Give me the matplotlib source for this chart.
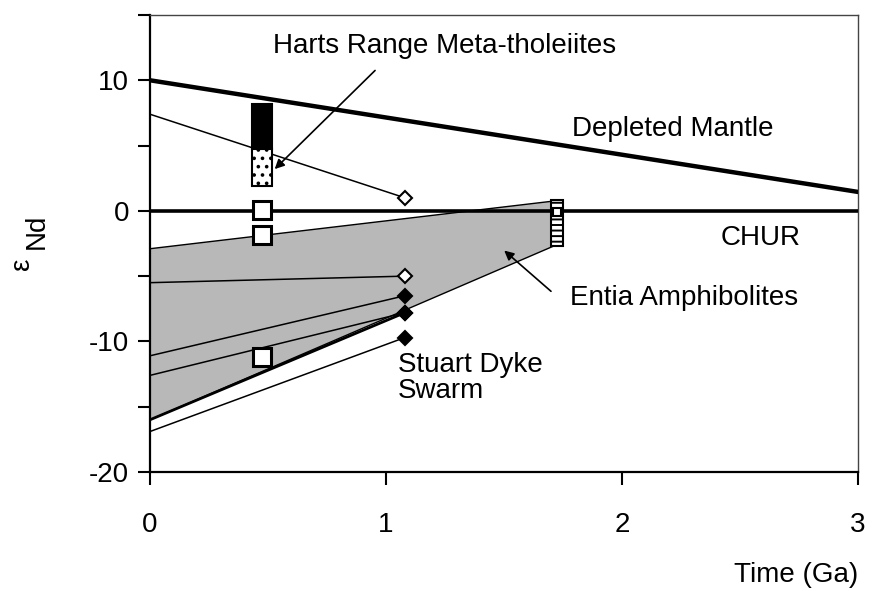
import matplotlib
matplotlib.use("Agg")
import matplotlib.pyplot as plt
from matplotlib.patches import Polygon, Rectangle

plt.rcParams['font.family'] = ['Liberation Sans', 'DejaVu Sans']
plt.rcParams['hatch.linewidth'] = 1.4

# Reference evolution lines (time in Ga, epsilon Nd)
dm_time = [0.0, 3.0]
dm_eps = [10.0, 1.45]
chur_time = [0.0, 3.0]
chur_eps = [0.0, 0.0]

# Entia Amphibolites field
entia_time = [0.0, 1.71, 1.71, 0.0]
entia_eps = [-2.9, 0.75, -2.7, -16.0]
entia_bar_time = 1.725
entia_bar_eps = (-2.7, 0.85)
entia_square_eps = -0.1

# Stuart Dyke Swarm samples and their evolution back to the present
sample_age = 1.08
sample_eps = [1.0, -5.0, -6.5, -7.8, -7.8, -9.7]
present_eps = [7.4, -5.5, -11.1, -12.6, -16.0, -16.9]
sample_filled = [False, False, True, True, True, True]
sample_lw = [1.1, 1.1, 1.1, 1.1, 2.0, 1.1]

# Harts Range meta-tholeiites
hr_age = 0.473
hr_square_eps = [0.1, -1.85, -11.2]
hr_black_eps = (4.7, 8.2)
hr_dot_eps = (1.9, 4.7)

x_ticks = [0, 1, 2, 3]
y_ticks = [-20, -15, -10, -5, 0, 5, 10, 15]
y_tick_labels = ['-20', '', '-10', '', '0', '', '10', '']

fig = plt.figure(figsize=(8.73, 5.91), dpi=100)
ax = fig.add_axes([150 / 873, 1 - 472 / 591, 708 / 873, 457 / 591])
ax.set_xlim(0, 3)
ax.set_ylim(-20, 15)

ax.add_patch(Polygon(list(zip(entia_time, entia_eps)), closed=True,
                     facecolor='#b8b8b8', edgecolor='black', lw=1.0, zorder=1))

ax.plot(dm_time, dm_eps, color='black', lw=3.2, zorder=3)
ax.plot(chur_time, chur_eps, color='black', lw=2.6, zorder=3)

for e0, e1, filled, lw in zip(present_eps, sample_eps, sample_filled, sample_lw):
    ax.plot([0, sample_age], [e0, e1], color='black', lw=lw, zorder=4)
    ax.plot(sample_age, e1, marker='D', ms=7,
            mfc='black' if filled else 'white', mec='black', mew=1.5, zorder=6)

# Harts Range composite bar
bw = 0.085
ax.add_patch(Rectangle((hr_age - bw / 2, hr_black_eps[0]), bw,
                       hr_black_eps[1] - hr_black_eps[0],
                       facecolor='black', edgecolor='black', lw=1.5, zorder=5))
ax.add_patch(Rectangle((hr_age - bw / 2, hr_dot_eps[0]), bw,
                       hr_dot_eps[1] - hr_dot_eps[0],
                       facecolor='white', edgecolor='black', hatch='..',
                       lw=1.5, zorder=5))
ax.plot([hr_age] * len(hr_square_eps), hr_square_eps, ls='none', marker='s',
        ms=13, mfc='white', mec='black', mew=2.2, zorder=6)

# Entia bar at 1.7 Ga
ew = 0.05
ax.add_patch(Rectangle((entia_bar_time - ew / 2, entia_bar_eps[0]), ew,
                       entia_bar_eps[1] - entia_bar_eps[0],
                       facecolor='white', edgecolor='black', hatch='---',
                       lw=1.5, zorder=5))
ax.plot(entia_bar_time, entia_square_eps, marker='s', ms=6, mfc='white',
        mec='black', mew=1.5, zorder=6)

fs = 20
ax.text(0.52, 12.6, 'Harts Range Meta-tholeiites', fontsize=fs,
        ha='left', va='center')
ax.annotate('', xy=(0.52, 3.05), xytext=(0.962, 10.9),
            arrowprops=dict(arrowstyle='-|>', color='black', lw=1.2,
                            mutation_scale=14))
ax.text(1.79, 6.3, 'Depleted Mantle', fontsize=fs, ha='left', va='center')
ax.text(2.42, -2.05, 'CHUR', fontsize=fs, ha='left', va='center')
ax.text(1.78, -6.65, 'Entia Amphibolites', fontsize=fs, ha='left', va='center')
ax.annotate('', xy=(1.492, -2.9), xytext=(1.708, -6.3),
            arrowprops=dict(arrowstyle='-|>', color='black', lw=1.2,
                            mutation_scale=14))
ax.text(1.05, -12.8, 'Stuart Dyke\nSwarm', fontsize=fs, ha='left',
        va='center', linespacing=1.0)

ax.set_xticks(x_ticks)
ax.set_xticklabels([str(t) for t in x_ticks])
ax.set_yticks(y_ticks)
ax.set_yticklabels(y_tick_labels)
ax.tick_params(axis='x', direction='out', length=9, width=1.5, pad=20,
               labelsize=fs)
ax.tick_params(axis='y', direction='out', length=9, width=1.5, pad=6,
               labelsize=fs)

for side in ('left', 'bottom'):
    ax.spines[side].set_linewidth(1.6)
for side in ('top', 'right'):
    ax.spines[side].set_linewidth(1.0)
    ax.spines[side].set_color('#444444')

fig.text(858 / 873, 1 - 575 / 591, 'Time (Ga)', fontsize=fs, ha='right',
         va='center')
fig.text(22 / 873, 1 - 264 / 591, '\u03b5', fontsize=fs, rotation=90,
         ha='center', va='center')
fig.text(37 / 873, 1 - 231 / 591, 'Nd', fontsize=fs, rotation=90,
         ha='center', va='center')

fig.savefig('out.png', dpi=100)
